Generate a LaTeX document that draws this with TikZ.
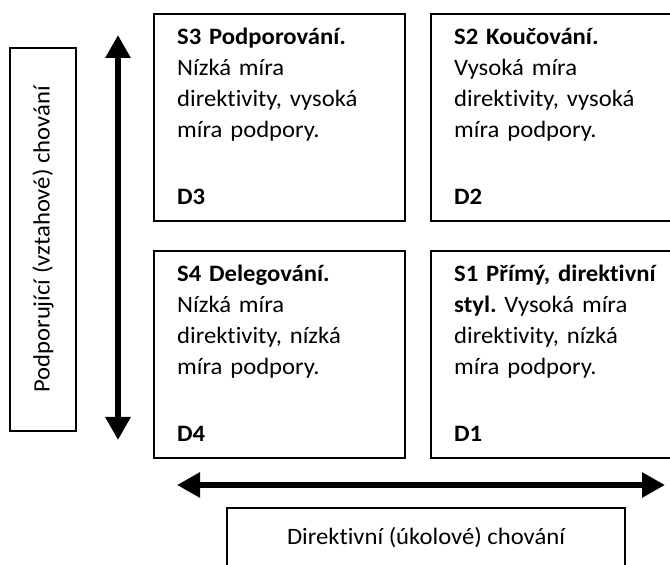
\documentclass[tikz,border=0pt]{standalone}
\usepackage{fontspec}
\setmainfont{Carlito}[FakeStretch=1.05,Ligatures=NoCommon]
\usetikzlibrary{positioning,arrows.meta}
\frenchspacing

\begin{document}
\begin{tikzpicture}[x=1pt,y=1pt,
        style box/.style={draw,line width=1.5pt,minimum width=251pt,minimum height=207pt,inner sep=0pt,outer sep=0pt},
        style text/.style={anchor=base west,align=left,text width=240pt,inner sep=0pt,font=\fontsize{23.5}{31}\selectfont},
        axis label/.style={draw,line width=1.5pt,inner sep=0pt,font=\fontsize{23.5}{31}\selectfont},
        axis/.style={line width=6pt,{Triangle[width=24pt,length=23pt]}-{Triangle[width=24pt,length=23pt]}}]
        \clip (0,0) rectangle (670,565);
        % the four styles, S3 S2 on top and S4 S1 below
        \node[style box] (S3 box) at (279.5,447.5) {};
        \node[style box] (S2 box) [right=26pt of S3 box] {};
        \node[style box] (S4 box) [below=30pt of S3 box] {};
        \node[style box] (S1 box) [right=26pt of S4 box] {};
        \node[style text] (S3 text) at ([xshift=23pt,yshift=-31pt]S3 box.north west)
            {\textbf{S3 Podporování.}\\ Nízká míra\\ direktivity, vysoká\\ míra podpory.};
        \node[style text] (S2 text) at ([xshift=23pt,yshift=-31pt]S2 box.north west)
            {\textbf{S2 Koučování.}\\ Vysoká míra\\ direktivity, vysoká\\ míra podpory.};
        \node[style text] (S4 text) at ([xshift=23pt,yshift=-31pt]S4 box.north west)
            {\textbf{S4 Delegování.}\\ Nízká míra\\ direktivity, nízká\\ míra podpory.};
        \node[style text] (S1 text) at ([xshift=23pt,yshift=-31pt]S1 box.north west)
            {\textbf{S1 Přímý, direktivní}\\ \textbf{styl.} Vysoká míra\\ direktivity, nízká\\ míra podpory.};
        \node[style text] (D3) at ([xshift=23pt,yshift=-191pt]S3 box.north west) {\textbf{D3}};
        \node[style text] (D2) at ([xshift=23pt,yshift=-191pt]S2 box.north west) {\textbf{D2}};
        \node[style text] (D4) at ([xshift=23pt,yshift=-191pt]S4 box.north west) {\textbf{D4}};
        \node[style text] (D1) at ([xshift=23pt,yshift=-191pt]S1 box.north west) {\textbf{D1}};
        % axes and their labels
        \coordinate (up end) at (118,530);
        \coordinate (down end) at (118,125);
        \coordinate (left end) at (177,80);
        \coordinate (right end) at (665,80);
        \draw[axis] (down end) -- (up end);
        \draw[axis] (left end) -- (right end);
        \node[axis label,rotate=90,minimum width=383pt,minimum height=66pt] (support label) at (43,325.5)
            {Podporující (vztahové) chování};
        \node[axis label,minimum width=398pt,minimum height=59pt] (task label) at (426,27.5)
            {Direktivní (úkolové) chování};
\end{tikzpicture}
\end{document}
